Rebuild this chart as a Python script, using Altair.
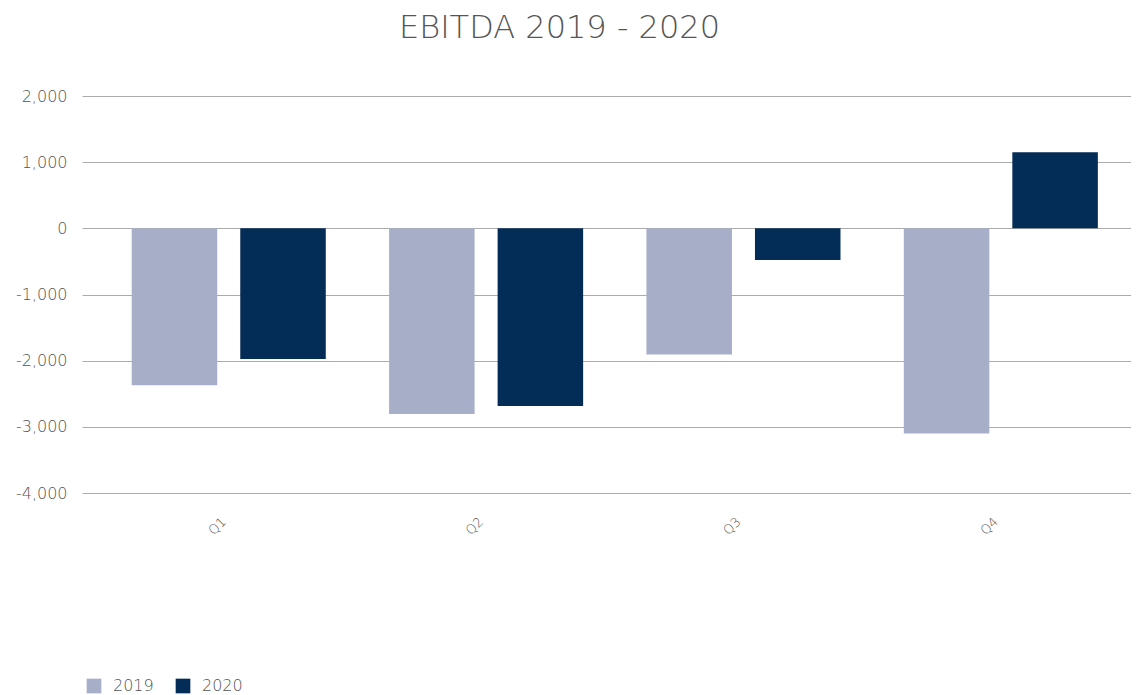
import altair as alt
import pandas as pd

quarters = ["Q1", "Q2", "Q3", "Q4"]
years = ["2019", "2020"]
values_2019 = [-2370, -2805, -1905, -3100]
values_2020 = [-1975, -2685, -480, 1150]
colors = ["#A7AEC7", "#032D57"]

rows = []
for q, a, b in zip(quarters, values_2019, values_2020):
    rows.append({"quarter": q, "year": "2019", "value": a})
    rows.append({"quarter": q, "year": "2020", "value": b})
df = pd.DataFrame(rows)

FONT = "DejaVu Sans"
GRAY = "#555555"

chart = alt.Chart(df).mark_bar().encode(
    x=alt.X(
        "quarter:N",
        sort=quarters,
        title=None,
        scale=alt.Scale(paddingInner=0.246, paddingOuter=0.161, align=0.60),
        axis=alt.Axis(
            labelAngle=-45,
            labelFont=FONT,
            labelFontSize=13,
            labelFontWeight=300,
            labelColor=GRAY,
            labelPadding=22,
            labelOffset=-9,
            ticks=False,
            domain=False,
            grid=False,
        ),
    ),
    xOffset=alt.XOffset("year:N", sort=years, scale=alt.Scale(paddingInner=0.212)),
    y=alt.Y(
        "value:Q",
        title=None,
        scale=alt.Scale(domain=[-4000, 2000], nice=False),
        axis=alt.Axis(
            values=[-4000, -3000, -2000, -1000, 0, 1000, 2000],
            format=",d",
            labelExpr="replace(datum.label, '\u2212', '-')",
            labelFont=FONT,
            labelFontSize=16,
            labelFontWeight=300,
            labelColor=GRAY,
            labelPadding=15,
            ticks=False,
            domain=False,
            gridColor="#ABABAB",
            gridWidth=1,
        ),
    ),
    color=alt.Color(
        "year:N",
        sort=years,
        scale=alt.Scale(domain=years, range=colors),
        legend=alt.Legend(
            title=None,
            orient="none",
            legendX=4,
            legendY=582,
            direction="horizontal",
            symbolType="square",
            symbolSize=215,
            symbolStrokeWidth=0,
            labelFont=FONT,
            labelFontSize=16,
            labelFontWeight=300,
            labelColor=GRAY,
            labelOffset=11,
            columnPadding=21,
        ),
    ),
).properties(
    width=1049,
    height=397,
    padding={"left": 7, "top": 4, "right": 0, "bottom": 0},
    title=alt.TitleParams(
        "EBITDA 2019 - 2020",
        font=FONT,
        fontSize=32,
        fontWeight=300,
        color=GRAY,
        anchor="middle",
        offset=43,
        dx=-47,
    ),
).configure_view(stroke=None)

chart.save("out.html", embed_options={"renderer": "svg", "actions": False})
